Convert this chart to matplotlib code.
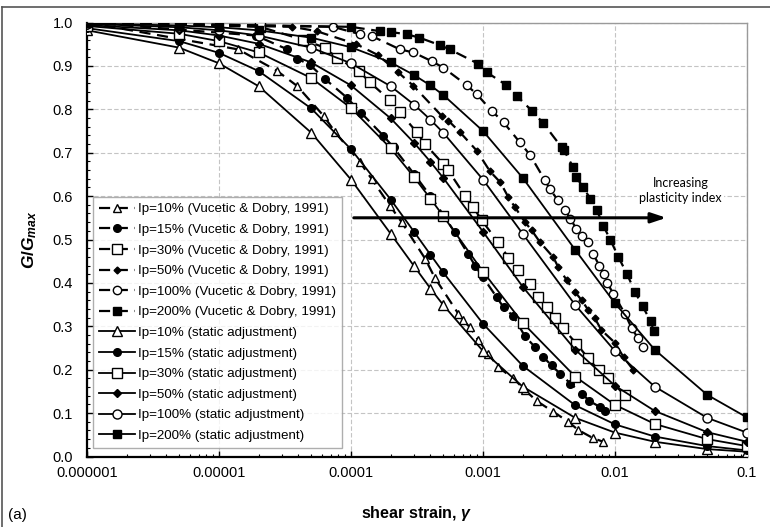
import matplotlib
matplotlib.use("Agg")
import matplotlib.pyplot as plt
from matplotlib.ticker import FixedLocator, NullFormatter, LogLocator
from matplotlib.lines import Line2D

plt.rcParams['font.family'] = ['Liberation Sans', 'DejaVu Sans']
plt.rcParams['mathtext.fontset'] = 'custom'
plt.rcParams['mathtext.it'] = 'Liberation Sans:italic:bold'
plt.rcParams['mathtext.rm'] = 'Liberation Sans:bold'
plt.rcParams['mathtext.bf'] = 'Liberation Sans:bold'

# ---------------- data ----------------
series_labels = ["Ip=10%", "Ip=15%", "Ip=30%", "Ip=50%", "Ip=100%", "Ip=200%"]

vd10_x = [1e-6, 1.4e-5, 2.74e-5, 3.9e-5, 6.2e-5, 7.6e-5, 1.17e-4, 1.43e-4, 1.97e-4, 2.42e-4,
          3.64e-4, 4.33e-4, 6.5e-4, 7.0e-4, 7.98e-4, 9.2e-4, 1.1e-3, 1.3e-3, 1.7e-3, 2.08e-3,
          2.55e-3, 3.41e-3, 4.43e-3, 5.27e-3, 6.85e-3, 8.15e-3]
vd10_y = [1.0, 0.938, 0.889, 0.854, 0.785, 0.747, 0.678, 0.640, 0.578, 0.540,
          0.456, 0.411, 0.329, 0.314, 0.298, 0.268, 0.237, 0.206, 0.180, 0.153,
          0.128, 0.103, 0.080, 0.061, 0.042, 0.034]

vd15_x = [1e-6, 1.9e-5, 3.3e-5, 3.9e-5, 4.9e-5, 6.4e-5, 9.3e-5, 1.2e-4, 1.76e-4, 2.1e-4,
          3.0e-4, 4.0e-4, 5.0e-4, 6.1e-4, 7.7e-4, 8.7e-4, 1.0e-3, 1.27e-3, 1.43e-3, 1.7e-3,
          2.08e-3, 2.48e-3, 2.86e-3, 3.31e-3, 3.83e-3, 4.6e-3, 5.6e-3, 6.4e-3, 7.7e-3, 8.4e-3]
vd15_y = [1.0, 0.970, 0.938, 0.917, 0.902, 0.869, 0.827, 0.791, 0.739, 0.712,
          0.651, 0.600, 0.557, 0.517, 0.467, 0.440, 0.413, 0.367, 0.344, 0.323,
          0.277, 0.252, 0.229, 0.210, 0.191, 0.168, 0.145, 0.128, 0.114, 0.105]

vd30_x = [1e-6, 2.05e-5, 4.35e-5, 6.35e-5, 7.8e-5, 1.14e-4, 1.39e-4, 1.97e-4, 2.35e-4, 3.15e-4,
          3.64e-4, 5.0e-4, 5.46e-4, 7.3e-4, 8.45e-4, 9.8e-4, 1.3e-3, 1.56e-3, 1.85e-3, 2.27e-3,
          2.62e-3, 3.04e-3, 3.51e-3, 4.05e-3, 5.1e-3, 6.28e-3, 7.5e-3, 8.9e-3, 1.19e-2]
vd30_y = [1.0, 0.990, 0.960, 0.942, 0.919, 0.889, 0.862, 0.821, 0.793, 0.747,
          0.720, 0.674, 0.659, 0.601, 0.574, 0.544, 0.494, 0.458, 0.429, 0.398,
          0.367, 0.344, 0.318, 0.295, 0.260, 0.226, 0.199, 0.180, 0.141]

vd50_x = [1e-6, 3.6e-5, 5.5e-5, 1.1e-4, 1.6e-4, 2.28e-4, 2.97e-4, 4.86e-4, 5.46e-4, 6.7e-4,
          8.95e-4, 1.13e-3, 1.35e-3, 1.56e-3, 1.75e-3, 2.08e-3, 2.34e-3, 2.7e-3, 3.41e-3, 3.72e-3,
          4.31e-3, 4.98e-3, 5.6e-3, 6.28e-3, 7.05e-3, 7.9e-3, 1.0e-2, 1.16e-2, 1.38e-2]
vd50_y = [1.0, 0.990, 0.980, 0.950, 0.925, 0.885, 0.854, 0.785, 0.774, 0.747,
          0.705, 0.657, 0.632, 0.597, 0.574, 0.540, 0.521, 0.494, 0.459, 0.436,
          0.406, 0.379, 0.360, 0.337, 0.318, 0.291, 0.262, 0.229, 0.199]

vd100_x = [1e-6, 7.3e-5, 1.17e-4, 1.43e-4, 2.35e-4, 2.97e-4, 4.08e-4, 5.0e-4, 7.5e-4, 8.95e-4,
           1.16e-3, 1.43e-3, 1.9e-3, 2.27e-3, 2.95e-3, 3.2e-3, 3.7e-3, 4.2e-3, 4.57e-3, 5.1e-3,
           5.6e-3, 6.28e-3, 6.85e-3, 7.6e-3, 8.26e-3, 8.75e-3, 9.7e-3, 1.19e-2, 1.34e-2, 1.5e-2, 1.64e-2]
vd100_y = [1.0, 0.990, 0.973, 0.969, 0.938, 0.931, 0.911, 0.896, 0.856, 0.835,
           0.797, 0.770, 0.724, 0.695, 0.636, 0.617, 0.590, 0.567, 0.548, 0.525,
           0.509, 0.494, 0.466, 0.440, 0.421, 0.400, 0.375, 0.329, 0.295, 0.272, 0.252]

vd200_x = [1e-6, 1.0e-4, 1.66e-4, 2.0e-4, 2.64e-4, 3.3e-4, 4.7e-4, 5.6e-4, 9.2e-4, 1.07e-3,
           1.5e-3, 1.8e-3, 2.34e-3, 2.86e-3, 3.95e-3, 4.1e-3, 4.83e-3, 5.1e-3, 5.75e-3, 6.5e-3,
           7.3e-3, 8.15e-3, 9.2e-3, 1.06e-2, 1.23e-2, 1.42e-2, 1.62e-2, 1.86e-2, 1.97e-2]
vd200_y = [1.0, 0.990, 0.980, 0.978, 0.973, 0.965, 0.948, 0.938, 0.905, 0.885,
           0.856, 0.831, 0.797, 0.768, 0.712, 0.706, 0.666, 0.643, 0.620, 0.594,
           0.567, 0.532, 0.500, 0.460, 0.421, 0.379, 0.346, 0.312, 0.289]

# static adjustment curves
st_x = [1e-6, 5e-6, 1e-5, 2e-5, 5e-5, 1e-4, 2e-4, 3e-4, 4e-4, 5e-4,
        1e-3, 2e-3, 5e-3, 1e-2, 2e-2, 5e-2, 1e-1]
st10_y = [0.982, 0.942, 0.906, 0.853, 0.746, 0.638, 0.513, 0.439, 0.387, 0.349,
          0.243, 0.161, 0.089, 0.055, 0.034, 0.017, 0.011]
st15_y = [0.987, 0.957, 0.930, 0.888, 0.802, 0.708, 0.592, 0.518, 0.465, 0.424,
          0.306, 0.209, 0.118, 0.074, 0.046, 0.024, 0.014]
st30_y = [0.992, 0.974, 0.957, 0.931, 0.872, 0.803, 0.710, 0.644, 0.594, 0.554,
          0.426, 0.308, 0.184, 0.119, 0.075, 0.040, 0.024]
st50_y = [0.994, 0.982, 0.970, 0.951, 0.908, 0.855, 0.779, 0.723, 0.679, 0.642,
          0.518, 0.391, 0.246, 0.163, 0.105, 0.056, 0.034]
st100_y = [0.997, 0.989, 0.982, 0.970, 0.942, 0.906, 0.853, 0.811, 0.776, 0.746,
           0.638, 0.513, 0.349, 0.243, 0.161, 0.089, 0.055]
st200_y = [0.998, 0.993, 0.989, 0.982, 0.965, 0.943, 0.908, 0.879, 0.855, 0.833,
           0.750, 0.642, 0.476, 0.353, 0.246, 0.142, 0.090]

x_ticks = [1e-6, 1e-5, 1e-4, 1e-3, 1e-2, 1e-1]
x_ticklabels = ["0.000001", "0.00001", "0.0001", "0.001", "0.01", "0.1"]
y_ticks = [0.0, 0.1, 0.2, 0.3, 0.4, 0.5, 0.6, 0.7, 0.8, 0.9, 1.0]
y_ticklabels = ["0.0", "0.1", "0.2", "0.3", "0.4", "0.5", "0.6", "0.7", "0.8", "0.9", "1.0"]

arrow_x = [1.05e-4, 2.45e-2]
arrow_y = 0.55
note_text = "Increasing\nplasticity index"
note_pos = (3.15e-2, 0.613)

# ---------------- styles ----------------
markers = ['^', 'o', 's', 'D', 'o', 's']
filled = [False, True, False, True, False, True]
msize_st = [6.5, 5.5, 6.5, 4.0, 6.5, 6.0]
msize_vd = [6.0, 5.5, 6.5, 3.5, 6.0, 6.0]

fig = plt.figure(figsize=(7.70, 5.27), dpi=100)
ax = fig.add_axes([87/770, 1-456.5/527, 660/770, 434/527])

vd_x = [vd10_x, vd15_x, vd30_x, vd50_x, vd100_x, vd200_x]
vd_y = [vd10_y, vd15_y, vd30_y, vd50_y, vd100_y, vd200_y]
st_y = [st10_y, st15_y, st30_y, st50_y, st100_y, st200_y]

for i in range(6):
    fc = 'black' if filled[i] else 'white'
    ax.plot(vd_x[i], vd_y[i], linestyle=(0, (5, 3)), color='black', lw=1.6,
            marker=markers[i], ms=msize_vd[i], mfc=fc, mec='black', mew=1.0,
            label=f"{series_labels[i]} (Vucetic & Dobry, 1991)", zorder=3)
for i in range(6):
    fc = 'black' if filled[i] else 'white'
    ax.plot(st_x, st_y[i], linestyle='-', color='black', lw=1.3,
            marker=markers[i], ms=msize_st[i], mfc=fc, mec='black', mew=1.0,
            label=f"{series_labels[i]} (static adjustment)", zorder=3)

ax.set_xscale('log')
ax.set_xlim(x_ticks[0], x_ticks[-1])
ax.set_ylim(y_ticks[0], y_ticks[-1])
ax.set_xticks(x_ticks)
ax.set_xticklabels(x_ticklabels, fontsize=10.5)
ax.set_yticks(y_ticks)
ax.set_yticklabels(y_ticklabels, fontsize=10.5)
ax.xaxis.set_minor_locator(LogLocator(base=10, subs=range(2, 10), numticks=20))
ax.xaxis.set_minor_formatter(NullFormatter())
ax.yaxis.set_minor_locator(FixedLocator([v / 50 for v in range(51)]))
ax.tick_params(which='major', direction='in', length=4, width=1)
ax.tick_params(which='minor', direction='in', length=2.5, width=0.8)
ax.tick_params(axis='x', which='major', pad=7)
ax.tick_params(axis='y', which='major', pad=10)

ax.grid(True, which='major', color='#c4c4c4', lw=0.8, linestyle=(0, (4, 2)), zorder=0)
ax.set_axisbelow(True)

for s in ['top', 'right']:
    ax.spines[s].set_color('#9a9a9a')
    ax.spines[s].set_linewidth(1.0)
for s in ['left', 'bottom']:
    ax.spines[s].set_color('black')
    ax.spines[s].set_linewidth(1.6)

ax.set_xlabel(r"shear strain, $\gamma$", fontsize=11.5, fontweight='bold', labelpad=17)
ax.set_ylabel(r"$G/G_{max}$", fontsize=12.5, labelpad=10)

# arrow and note
ax.annotate("", xy=(arrow_x[1], arrow_y), xytext=(arrow_x[0], arrow_y),
            arrowprops=dict(arrowstyle='-|>,head_length=0.9,head_width=0.3',
                            color='black', lw=2.2, shrinkA=0, shrinkB=0), zorder=5)
ax.text(note_pos[0], note_pos[1], note_text, ha='center', va='center',
        fontsize=9, family=['Lato', 'DejaVu Sans'], linespacing=1.35,
        bbox=dict(facecolor='white', edgecolor='none', pad=1.5), zorder=4)

leg = ax.legend(loc='lower left', bbox_to_anchor=(0.009, 0.0195), borderaxespad=0,
                fontsize=9.6, handlelength=2.7, handletextpad=0.2, labelspacing=0.62,
                frameon=True, fancybox=False, edgecolor='#9a9a9a', borderpad=0.45)
leg.get_frame().set_linewidth(1.0)
leg.set_zorder(6)

fig.text(8/770, 1-515/527, "(a)", fontsize=11, ha='left', va='center')

# outer chart-area frame (top and left edges visible in the reference)
fig.add_artist(Line2D([1.5/770, 1.0], [1-7/527, 1-7/527], transform=fig.transFigure,
                      color='#555555', lw=1.2))
fig.add_artist(Line2D([1.5/770, 1.5/770], [0.0, 1-7/527], transform=fig.transFigure,
                      color='#555555', lw=1.2))

fig.savefig("out.png", dpi=100)
